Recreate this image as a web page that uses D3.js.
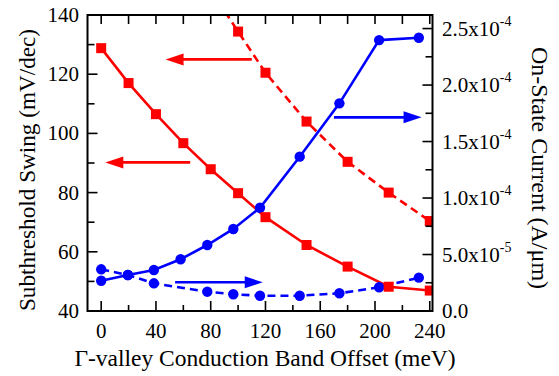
<!DOCTYPE html>
<html>
<head>
<meta charset="utf-8">
<script src="https://cdn.jsdelivr.net/npm/d3@7"></script>
<style>
  body { margin: 0; background: #fff; }
  svg { display: block; }
</style>
</head>
<body>
<div id="chart"></div>
<script>
// Subthreshold swing (left axis, mV/dec)
var ssX = [0, 20, 40, 60, 80, 100, 120, 150, 180, 210, 240];
var ssSolid = [128.8, 117, 106.5, 96.7, 87.9, 79.8, 71.7, 62.3, 55, 48.2, 46.9];
var ssDashX = [80, 100, 120, 150, 180, 210, 240];
var ssDash = [148.5, 134.4, 120.5, 104, 90.4, 80, 70.4];

// On-state current (right axis, in units of 1e-4 A/um)
var ionX = [0, 19.5, 38.5, 58, 77.5, 96.5, 116, 145, 174, 203, 232];
var ionSolid = [0.268, 0.319, 0.363, 0.458, 0.584, 0.726, 0.914, 1.366, 1.838, 2.398, 2.419];
var ionDashX = [0, 19.5, 38.5, 77.5, 96.5, 116, 145, 174, 203, 232];
var ionDash = [0.369, 0.319, 0.245, 0.171, 0.148, 0.135, 0.135, 0.157, 0.21, 0.295];

// tick values
var xMajor = [0, 40, 80, 120, 160, 200, 240];
var xMinor = [20, 60, 100, 140, 180, 220];
var leftMajor = [40, 60, 80, 100, 120, 140];
var leftMinor = [50, 70, 90, 110, 130];
var rightMajor = [0, 0.5, 1.0, 1.5, 2.0, 2.5];
var rightMinor = [0.25, 0.75, 1.25, 1.75, 2.25];
var rightLabels = [["0.0", ""], ["5.0x10", "-5"], ["1.0x10", "-4"], ["1.5x10", "-4"], ["2.0x10", "-4"], ["2.5x10", "-4"]];

// annotation arrows in data units: [x from, x to, y, axis, colour]
var arrows = [
  [110, 47, 125, "left", "red"],
  [65, 3, 90.2, "left", "red"],
  [170, 234, 1.714, "right", "blue"],
  [54, 118, 0.254, "right", "blue"]
];

var width = 559, height = 376;
var plot = { left: 87.5, right: 432.5, top: 15, bottom: 311 };
var FONT = "Liberation Serif";

var svg = d3.select("#chart").append("svg")
  .attr("width", width).attr("height", height);
svg.append("rect").attr("width", width).attr("height", height).attr("fill", "#fff");

var x = d3.scaleLinear().domain([-10, 242]).range([plot.left, plot.right]);
var yL = d3.scaleLinear().domain([40, 140]).range([plot.bottom, plot.top]);
var yR = d3.scaleLinear().domain([0, 2.62]).range([plot.bottom, plot.top]);

svg.append("clipPath").attr("id", "clip")
  .append("rect")
  .attr("x", plot.left).attr("y", plot.top)
  .attr("width", plot.right - plot.left).attr("height", plot.bottom - plot.top);

var g = svg.append("g").attr("clip-path", "url(#clip)");

function pairs(xs, ys) {
  return xs.map(function (d, i) { return [d, ys[i]]; });
}

function drawLine(data, yScale, color, dashed) {
  var line = d3.line()
    .x(function (d) { return x(d[0]); })
    .y(function (d) { return yScale(d[1]); });
  g.append("path")
    .datum(data)
    .attr("d", line)
    .attr("fill", "none")
    .attr("stroke", color)
    .attr("stroke-width", 2.6)
    .attr("stroke-dasharray", dashed ? "8,5" : null);
}

function drawSquares(data, yScale) {
  g.selectAll(null).data(data).enter()
    .append("rect")
    .attr("x", function (d) { return x(d[0]) - 5; })
    .attr("y", function (d) { return yScale(d[1]) - 5; })
    .attr("width", 10).attr("height", 10)
    .attr("fill", "#ff0000");
}

function drawCircles(data, yScale) {
  g.selectAll(null).data(data).enter()
    .append("circle")
    .attr("cx", function (d) { return x(d[0]); })
    .attr("cy", function (d) { return yScale(d[1]); })
    .attr("r", 5.2)
    .attr("fill", "#0000ff");
}

var ssSolidData = pairs(ssX, ssSolid);
var ssDashData = pairs(ssDashX, ssDash);
var ionSolidData = pairs(ionX, ionSolid);
var ionDashData = pairs(ionDashX, ionDash);

drawLine(ssSolidData, yL, "#ff0000", false);
drawLine(ssDashData, yL, "#ff0000", true);
drawLine(ionSolidData, yR, "#0000ff", false);
drawLine(ionDashData, yR, "#0000ff", true);
drawCircles(ionSolidData, yR);
drawCircles(ionDashData, yR);
drawSquares(ssSolidData, yL);
drawSquares(ssDashData, yL);

/// arrows
arrows.forEach(function (a) {
  var ys = a[3] === "left" ? yL : yR;
  var x0 = x(a[0]), x1 = x(a[1]), yy = ys(a[2]);
  var dir = x1 > x0 ? 1 : -1;
  var headLen = 18, headW = 6;
  svg.append("line")
    .attr("x1", x0).attr("y1", yy)
    .attr("x2", x1 - dir * headLen + dir * 2).attr("y2", yy)
    .attr("stroke", a[4]).attr("stroke-width", 2.6);
  svg.append("path")
    .attr("d", "M" + x1 + "," + yy +
      "L" + (x1 - dir * headLen) + "," + (yy - headW) +
      "L" + (x1 - dir * headLen) + "," + (yy + headW) + "Z")
    .attr("fill", a[4]);
});

/// axes
var axes = svg.append("g").attr("stroke", "#000").attr("stroke-width", 1.6);

function tickMarks(vals, scale, orient, len) {
  vals.forEach(function (v) {
    var p = scale(v);
    if (orient === "bottom") axes.append("line").attr("x1", p).attr("x2", p).attr("y1", plot.bottom).attr("y2", plot.bottom - len);
    if (orient === "top") axes.append("line").attr("x1", p).attr("x2", p).attr("y1", plot.top).attr("y2", plot.top + len);
    if (orient === "left") axes.append("line").attr("y1", p).attr("y2", p).attr("x1", plot.left).attr("x2", plot.left + len);
    if (orient === "right") axes.append("line").attr("y1", p).attr("y2", p).attr("x1", plot.right).attr("x2", plot.right - len);
  });
}

tickMarks(xMajor, x, "bottom", 10);
tickMarks(xMinor, x, "bottom", 6);
tickMarks(xMajor, x, "top", 9);
tickMarks(xMinor, x, "top", 9);
tickMarks(leftMajor, yL, "left", 10);
tickMarks(leftMinor, yL, "left", 7);
tickMarks(rightMajor, yR, "right", 10);
tickMarks(rightMinor, yR, "right", 7);

axes.append("rect")
  .attr("x", plot.left).attr("y", plot.top)
  .attr("width", plot.right - plot.left).attr("height", plot.bottom - plot.top)
  .attr("fill", "none").attr("stroke-width", 2);

/// tick labels
svg.selectAll(null).data(xMajor).enter()
  .append("text")
  .attr("font-family", FONT)
  .attr("x", function (d) { return x(d); })
  .attr("y", 338)
  .attr("text-anchor", "middle")
  .attr("font-size", 21)
  .text(function (d) { return d; });

svg.selectAll(null).data(leftMajor).enter()
  .append("text")
  .attr("font-family", FONT)
  .attr("x", 79)
  .attr("y", function (d) { return yL(d) + 7; })
  .attr("text-anchor", "end")
  .attr("font-size", 21)
  .text(function (d) { return d; });

var rl = svg.selectAll(null).data(rightMajor).enter()
  .append("text")
  .attr("font-family", FONT)
  .attr("x", 442)
  .attr("y", function (d) { return yR(d) + 7; })
  .attr("font-size", 21);
rl.append("tspan").text(function (d, i) { return rightLabels[i][0]; });
rl.append("tspan")
  .attr("font-size", 14)
  .attr("dy", -10)
  .text(function (d, i) { return rightLabels[i][1]; });

/// axis titles
svg.append("text")
  .attr("font-family", FONT)
  .attr("transform", "translate(" + 265 + "," + 366 + ")")
  .attr("text-anchor", "middle")
  .attr("font-size", 23.5)
  .text("\u0393-valley Conduction Band Offset (meV)");

svg.append("text")
  .attr("font-family", FONT)
  .attr("transform", "translate(" + 35 + "," + 170 + ")rotate(-90)")
  .attr("text-anchor", "middle")
  .attr("font-size", 23.2)
  .text("Subthreshold Swing (mV/dec)");

svg.append("text")
  .attr("font-family", FONT)
  .attr("transform", "translate(" + 532 + "," + 168 + ")rotate(90)")
  .attr("text-anchor", "middle")
  .attr("font-size", 24)
  .text("On-State Current (A/\u03bcm)");
</script>
</body>
</html>
